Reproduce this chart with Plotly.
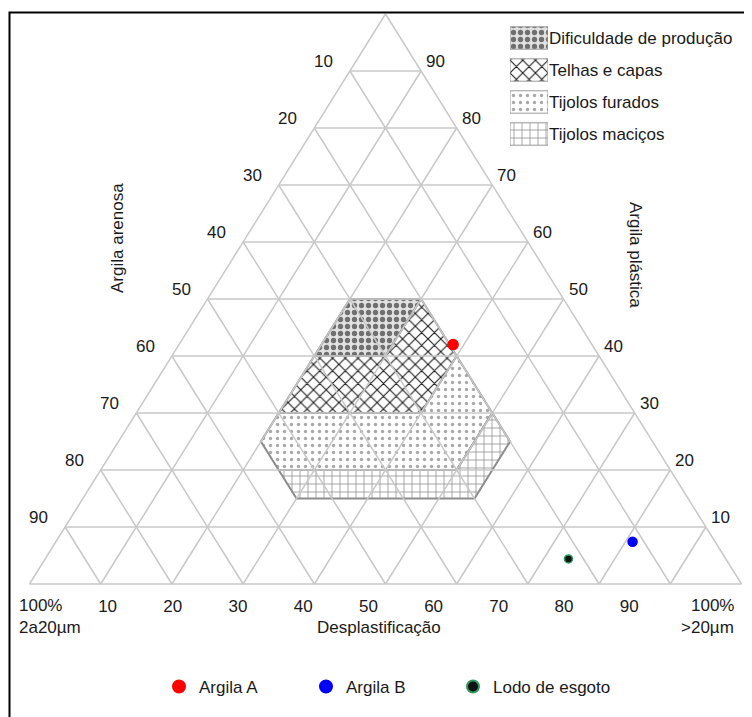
import plotly.graph_objects as go

# ---------------- data ----------------
grid_ticks = [10, 20, 30, 40, 50, 60, 70, 80, 90]
left_tick_text = [str(100 - t) for t in grid_ticks]      # Argila arenosa labels
right_tick_text = [str(t) for t in grid_ticks]           # Argila plástica labels
bottom_tick_text = [str(t) for t in grid_ticks]          # Desplastificação labels

region_names = ["Dificuldade de produção", "Telhas e capas", "Tijolos furados", "Tijolos maciços"]
# vertices: plastic clay (<2 µm) % and coarse fraction (>20 µm) %
region_plastic = [
    [50, 50, 40, 40],
    [50, 40, 30, 30, 40, 40],
    [40, 30, 20, 20, 25, 30, 30],
    [20, 20, 30, 25, 15, 15],
]
region_coarse = [
    [20, 30, 30, 20],
    [30, 40, 40, 20, 20, 30],
    [40, 50, 50, 25, 20, 20, 40],
    [25, 50, 50, 55, 55, 30],
]

sample_names = ["Argila A", "Argila B", "Lodo de esgoto"]
sample_plastic = [42.0, 7.4, 4.4]
sample_coarse = [38.5, 81.0, 73.5]

# ---------------- styles / page geometry ----------------
FONT = "Liberation Sans, Arial, sans-serif"
GRID = "#c8c8c8"
OFF = 8                      # page body margin
W, H = 752 - OFF, 717 - OFF  # figure size
L_PX, BASE_PX, WIDTH_PX, HEIGHT_PX = 29.5, 584.0, 712.0, 570.0   # page pixels


def xp(px):
    return (px - OFF) / W


def yp(py):
    return 1 - (py - OFF) / H


region_patterns = [
    dict(shape=".", fgcolor="#707070", bgcolor="#e2e2e2", size=7, solidity=0.45),
    dict(shape="x", fgcolor="#1a1a1a", bgcolor="white", size=9, solidity=0.22),
    dict(shape=".", fgcolor="#a8a8a8", bgcolor="white", size=7, solidity=0.18),
    dict(shape="+", fgcolor="#8c8c8c", bgcolor="white", size=8, solidity=0.18),
]
sample_colors = ["#ff0000", "#0000ff", "#111111"]
sample_line = ["#ff0000", "#0000ff", "#2e9a5e"]
sample_sizes = [10, 9, 8]


def to_xy(p, d):
    """ternary (plastic %, coarse %) -> cartesian"""
    return d + p / 2.0, p


fig = go.Figure()

# regions
for name, pl, co, pat in zip(region_names, region_plastic, region_coarse, region_patterns):
    xs, ys = [], []
    for p, d in zip(pl + [pl[0]], co + [co[0]]):
        x, y = to_xy(p, d)
        xs.append(x)
        ys.append(y)
    fig.add_trace(go.Scatter(
        x=xs, y=ys, mode="lines", fill="toself",
        fillpattern=dict(shape=pat["shape"], fgcolor=pat["fgcolor"], bgcolor=pat["bgcolor"],
                         size=pat["size"], solidity=pat["solidity"], fillmode="replace"),
        line=dict(color="#8c8c8c", width=2), showlegend=False, hoverinfo="skip", name=name))

# grid + triangle outline
gx, gy = [], []
for t in [0] + grid_ticks:
    for a, b in [((t, 0), (t, 100 - t)),        # constant plastic
                 ((0, t), (100 - t, t)),        # constant coarse
                 ((0, 100 - t), (100 - t, 0))]: # constant medium
        x0, y0 = to_xy(*a)
        x1, y1 = to_xy(*b)
        gx += [x0, x1, None]
        gy += [y0, y1, None]
fig.add_trace(go.Scatter(x=gx, y=gy, mode="lines", line=dict(color=GRID, width=1.5),
                         showlegend=False, hoverinfo="skip"))

# samples
for name, p, d, c, lc, s in zip(sample_names, sample_plastic, sample_coarse,
                                sample_colors, sample_line, sample_sizes):
    x, y = to_xy(p, d)
    fig.add_trace(go.Scatter(x=[x], y=[y], mode="markers", name=name,
                             marker=dict(color=c, size=s, line=dict(color=lc, width=1.5))))

# invisible spacer entry so the last legend label is not clipped
fig.add_trace(go.Scatter(x=[None], y=[None], mode="markers", name=" ",
                         marker=dict(color="rgba(0,0,0,0)", line=dict(width=0, color="rgba(0,0,0,0)")),
                         showlegend=True, hoverinfo="skip"))

# region legend (patterned swatches as a small bar chart)
fig.add_trace(go.Bar(
    y=region_names, x=[1] * len(region_names), orientation="h", xaxis="x3", yaxis="y3",
    showlegend=False, hoverinfo="skip",
    marker=dict(color="white", line=dict(color="#9a9a9a", width=1),
                pattern=dict(shape=[p["shape"] for p in region_patterns],
                             fgcolor=[p["fgcolor"] for p in region_patterns],
                             bgcolor=[p["bgcolor"] for p in region_patterns],
                             size=[p["size"] for p in region_patterns],
                             solidity=[p["solidity"] for p in region_patterns],
                             fillmode="replace"))))

# ---------------- annotations ----------------
ann = []
for t, lt, rt in zip(grid_ticks, left_tick_text, right_tick_text):
    xl, yl = to_xy(t, 0)
    xr, yr = to_xy(t, 100 - t)
    ann.append(dict(x=xl, y=yl, text=lt, xanchor="right", yanchor="middle",
                    xshift=-15, yshift=10, showarrow=False))
    ann.append(dict(x=xr, y=yr, text=rt, xanchor="left", yanchor="middle",
                    xshift=3, yshift=10, showarrow=False))

x0c, y0c = to_xy(0, 0)
x1c, y1c = to_xy(0, 100)
ann += [
    dict(x=x0c, y=y0c, text="100%", xanchor="left", yanchor="middle", xshift=-13, yshift=-21, showarrow=False),
    dict(x=x1c, y=y1c, text="100%", xanchor="right", yanchor="middle", xshift=-6, yshift=-21, showarrow=False),
    dict(x=x0c, y=y0c, text="2a20µm", xanchor="left", yanchor="middle", xshift=-13, yshift=-43, showarrow=False),
    dict(x=(x0c + x1c) / 2, y=y0c, text="Desplastificação", xanchor="center", yanchor="middle",
         xshift=-7, yshift=-43, showarrow=False),
    dict(x=x1c, y=y1c, text=">20µm", xanchor="right", yanchor="middle", xshift=-6, yshift=-43, showarrow=False),
    dict(x=xp(118), y=yp(238), xref="paper", yref="paper", text="Argila arenosa", textangle=-90,
         showarrow=False, xanchor="center", yanchor="middle"),
    dict(x=xp(636), y=yp(255), xref="paper", yref="paper", text="Argila plástica", textangle=90,
         showarrow=False, xanchor="center", yanchor="middle"),
]

# main axes: map ternary cartesian units onto page pixels
xr0 = (OFF - L_PX) / WIDTH_PX * 100
xr1 = (OFF + W - L_PX) / WIDTH_PX * 100
yr0 = (BASE_PX - (OFF + H)) / HEIGHT_PX * 100
yr1 = (BASE_PX - OFF) / HEIGHT_PX * 100

# bottom tick axis: 10..90 spaced like the reference labels (page px = 42.4 + 6.52*t)
bt_px0, bt_step = 42.4, 6.52
bx0 = (OFF - bt_px0) / bt_step
bx1 = (OFF + W - bt_px0) / bt_step

fig.update_layout(
    width=W, height=H, margin=dict(l=0, r=0, t=0, b=0),
    paper_bgcolor="white", plot_bgcolor="white",
    font=dict(family=FONT, size=17, color="#1a1a1a"),
    xaxis=dict(range=[xr0, xr1], domain=[0, 1], visible=False, fixedrange=True),
    yaxis=dict(range=[yr0, yr1], domain=[0, 1], visible=False, fixedrange=True),
    xaxis2=dict(overlaying="x", anchor="free", position=yp(594), range=[bx0, bx1],
                tickvals=grid_ticks, ticktext=bottom_tick_text,
                showgrid=False, zeroline=False, showline=False, ticks="",
                tickfont=dict(size=17), side="bottom", fixedrange=True),
    xaxis3=dict(domain=[xp(510), xp(548)], range=[0, 1], visible=False, anchor="y3", fixedrange=True),
    yaxis3=dict(domain=[yp(150), yp(22)], anchor="x3", side="right", type="category",
                autorange="reversed", showgrid=False, zeroline=False, showline=False, ticks="",
                tickfont=dict(size=17), fixedrange=True),
    bargap=0.3, barmode="overlay",
    legend=dict(orientation="h", x=xp(159), xanchor="left", y=yp(687), yanchor="middle",
                font=dict(size=17), entrywidth=102, entrywidthmode="pixels",
                itemsizing="constant", bgcolor="rgba(0,0,0,0)"),
    annotations=ann,
    shapes=[dict(type="rect", xref="paper", yref="paper", x0=xp(9.5), x1=1.05, y0=-0.05,
                 y1=yp(12.5), line=dict(color="black", width=2))],
)

# dummy invisible trace so the bottom tick axis renders
fig.add_trace(go.Scatter(x=[bx0], y=[yr0], xaxis="x2", yaxis="y", mode="markers",
                         marker=dict(opacity=0), showlegend=False, hoverinfo="skip"))

fig.write_html("out.html")
